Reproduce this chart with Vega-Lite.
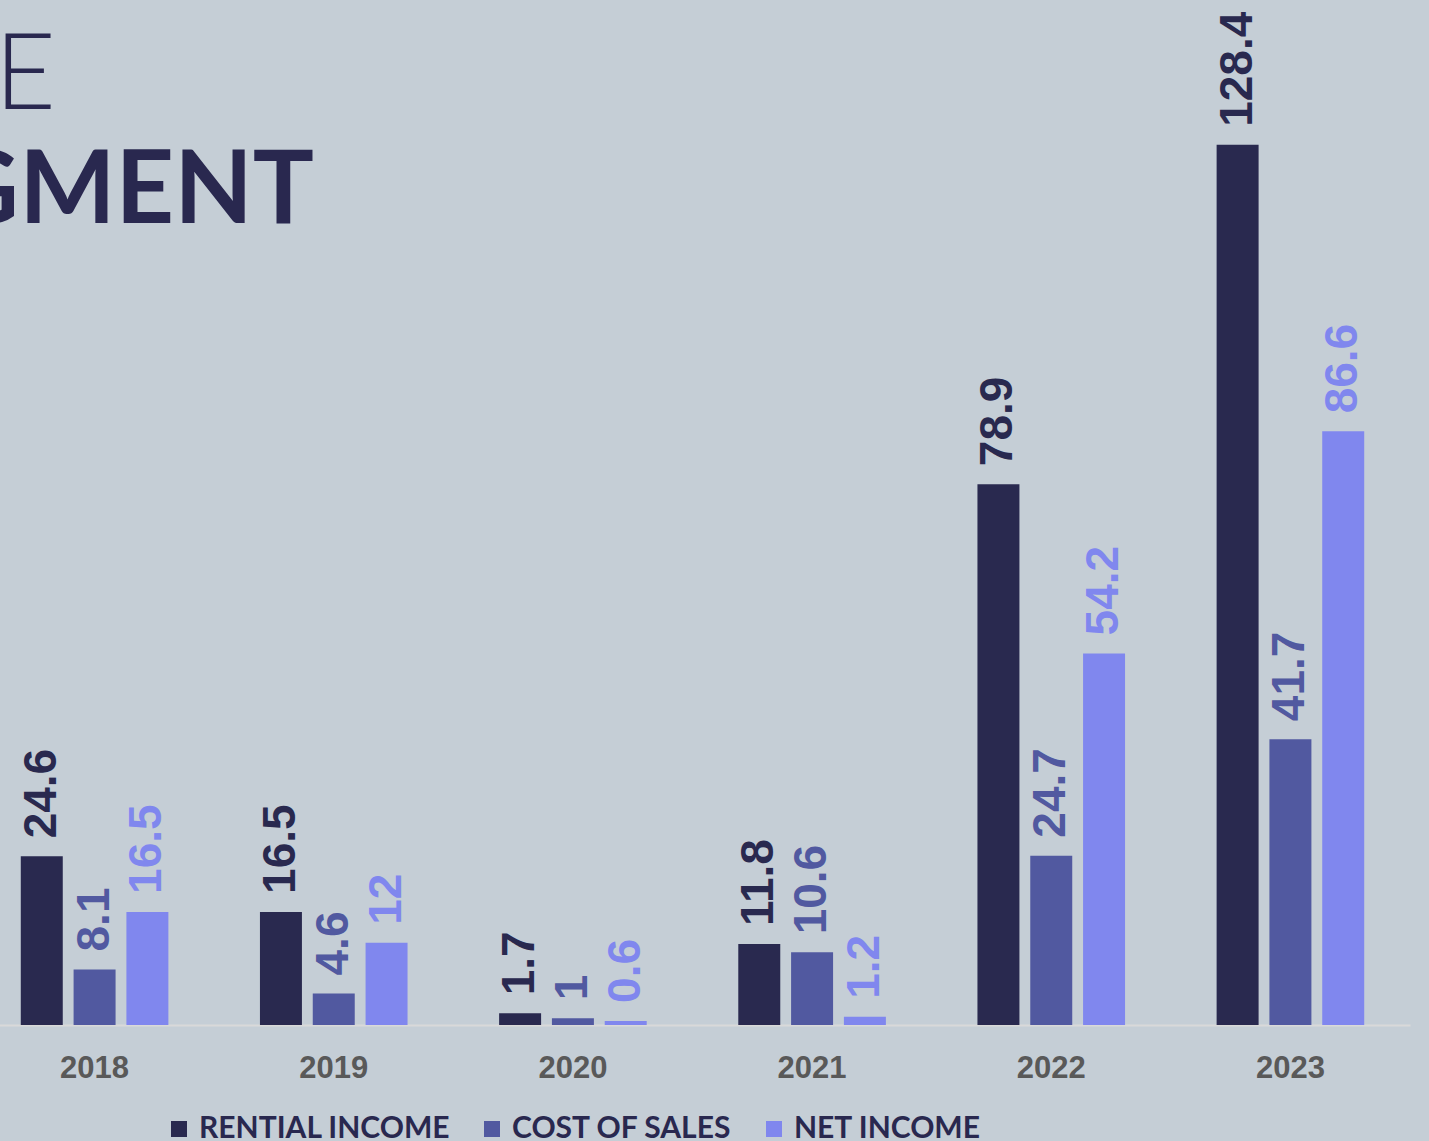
{
  "$schema": "https://vega.github.io/schema/vega-lite/v6.json",
  "width": 1435,
  "height": 994,
  "autosize": {"type": "none"},
  "padding": {"left": -25, "top": 31, "right": 25, "bottom": 150},
  "background": "#c5ced6",
  "title": {
    "text": "GMENT",
    "anchor": "start",
    "orient": "top",
    "frame": "group",
    "align": "right",
    "dx": 339,
    "dy": 236,
    "font": "Lato",
    "fontSize": 102,
    "fontWeight": 700,
    "color": "#29284f"
  },
  "data": {
    "values": [
      {"year": "2018", "series": "RENTIAL INCOME", "value": 24.6},
      {"year": "2018", "series": "COST OF SALES", "value": 8.1},
      {"year": "2018", "series": "NET INCOME", "value": 16.5},
      {"year": "2019", "series": "RENTIAL INCOME", "value": 16.5},
      {"year": "2019", "series": "COST OF SALES", "value": 4.6},
      {"year": "2019", "series": "NET INCOME", "value": 12},
      {"year": "2020", "series": "RENTIAL INCOME", "value": 1.7},
      {"year": "2020", "series": "COST OF SALES", "value": 1},
      {"year": "2020", "series": "NET INCOME", "value": 0.6},
      {"year": "2021", "series": "RENTIAL INCOME", "value": 11.8},
      {"year": "2021", "series": "COST OF SALES", "value": 10.6},
      {"year": "2021", "series": "NET INCOME", "value": 1.2},
      {"year": "2022", "series": "RENTIAL INCOME", "value": 78.9},
      {"year": "2022", "series": "COST OF SALES", "value": 24.7},
      {"year": "2022", "series": "NET INCOME", "value": 54.2},
      {"year": "2023", "series": "RENTIAL INCOME", "value": 128.4},
      {"year": "2023", "series": "COST OF SALES", "value": 41.7},
      {"year": "2023", "series": "NET INCOME", "value": 86.6}
    ]
  },
  "encoding": {
    "x": {
      "field": "year",
      "type": "nominal",
      "scale": {"paddingInner": 0, "paddingOuter": 0},
      "axis": {
        "title": null,
        "labelAngle": 0,
        "labelFont": "Liberation Sans",
        "labelFontSize": 31,
        "labelFontWeight": "bold",
        "labelColor": "#595959",
        "ticks": false,
        "domainColor": "#d9d9d9",
        "domainWidth": 2,
        "labelPadding": 28
      }
    },
    "xOffset": {
      "field": "series",
      "type": "nominal",
      "scale": {
        "domain": ["RENTIAL INCOME", "COST OF SALES", "NET INCOME"],
        "paddingInner": 0.205,
        "paddingOuter": 0.867
      }
    },
    "y": {
      "field": "value",
      "type": "quantitative",
      "scale": {"domain": [0, 145], "nice": false},
      "axis": {
        "title": "E",
        "titleAngle": 0,
        "titleX": 19,
        "titleY": 77,
        "titleAlign": "left",
        "titleBaseline": "alphabetic",
        "titleFont": "Lato",
        "titleFontSize": 106,
        "titleFontWeight": 300,
        "titleColor": "#29284f",
        "labels": false,
        "ticks": false,
        "domain": false,
        "grid": false
      }
    },
    "color": {
      "field": "series",
      "type": "nominal",
      "scale": {
        "domain": ["RENTIAL INCOME", "COST OF SALES", "NET INCOME"],
        "range": ["#29294f", "#5159a0", "#8087ee"]
      },
      "legend": {
        "orient": "none",
        "legendX": 189,
        "legendY": 1083,
        "direction": "horizontal",
        "title": null,
        "labelFont": "Lato",
        "labelFontSize": 30,
        "labelFontWeight": "bold",
        "labelColor": "#29284f",
        "symbolType": "square",
        "symbolSize": 256,
        "symbolStrokeWidth": 0,
        "labelOffset": 5,
        "columnPadding": 26,
        "labelLimit": 0
      }
    }
  },
  "layer": [
    {"mark": {"type": "bar"}},
    {
      "mark": {
        "type": "text",
        "angle": 270,
        "align": "left",
        "baseline": "middle",
        "dx": 18,
        "font": "Liberation Sans",
        "fontSize": 46,
        "fontWeight": "bold"
      },
      "encoding": {"text": {"field": "value", "type": "quantitative"}}
    }
  ],
  "config": {"view": {"stroke": null}}
}
